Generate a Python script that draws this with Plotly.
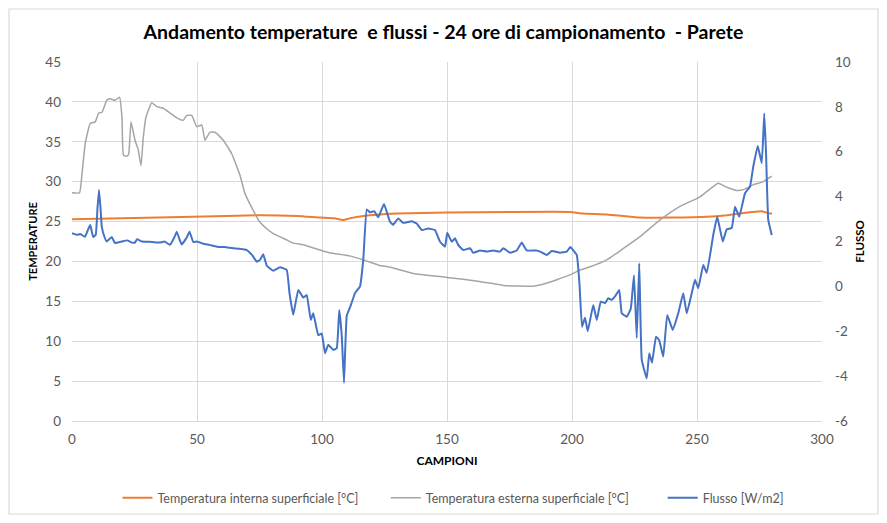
import plotly.graph_objects as go

ORANGE = "#ED7D31"
GRAY = "#A5A5A5"
BLUE = "#4472C4"
GRID = "#D9D9D9"
TXT = "#595959"
FONT = "Lato"

# ---------------------------------------------------------------- data
T_INT_X = [0, 20, 48.5, 75, 90, 99, 105, 108.5, 111, 116.5, 130, 150, 175, 199,
           204.5, 214, 227, 240, 254, 262, 272, 276, 279, 280]
T_INT_Y = [25.3, 25.4, 25.6, 25.8, 25.7, 25.5, 25.4, 25.2, 25.4, 25.7, 26.0, 26.15,
           26.2, 26.2, 26.0, 25.9, 25.5, 25.5, 25.6, 25.8, 26.2, 26.3, 26.0, 26.0]

T_EXT_X = [0, 3, 4, 5.3, 7.3, 9.3, 10.7, 12, 13.9, 15.2, 17.2, 19, 20, 20.6, 22,
           22.7, 23.6, 25.2, 26.5, 27.6, 28.5, 29.6, 31.9, 33.9, 36.5, 39.2, 41.9,
           44.5, 45.9, 47.9, 49.9, 51.9, 53.2, 55.2, 57.2, 60.5, 63.9, 67.2, 69.2,
           72.5, 75, 77.9, 80.5, 85.9, 88.5, 92.5, 98.5, 103, 111, 116.5, 123, 127,
           136.5, 150, 163, 172.5, 184.5, 188, 193.9, 200.5, 203, 207, 213.9, 220,
           227.2, 235.2, 243.2, 251.2, 258.5, 261.9, 265.9, 268.5, 272.5, 276.5, 279.9]
T_EXT_Y = [28.6, 28.6, 31, 34.8, 37.3, 37.5, 38.6, 38.7, 40.2, 40.4, 40.2, 40.6, 38,
           33.3, 33.2, 33.5, 37.5, 35.2, 34, 32, 35.5, 38.1, 39.9, 39.4, 39.2, 38.6,
           38, 37.7, 38.3, 38.3, 36.9, 37.1, 35.2, 36.2, 36.2, 35.2, 33.5, 30.8, 28.5,
           26.4, 25, 24.1, 23.5, 22.7, 22.3, 22.1, 21.5, 21.1, 20.7, 20.2, 19.5, 19.3,
           18.5, 18.0, 17.5, 17.0, 16.9, 17.1, 17.7, 18.5, 18.9, 19.3, 20.2, 21.5,
           23.1, 25.2, 26.9, 28.1, 29.8, 29.3, 28.9, 29.0, 29.6, 30.0, 30.7]

FLUX_X = [0, 2, 3.3, 5.2, 6.3, 7.3, 8.5, 9.5, 10.2, 10.8, 11.4, 11.9, 13, 13.9, 15.9,
          17.2, 20, 22, 24, 25.2, 26, 28, 32, 35, 37, 39.2, 41, 41.9, 43, 43.9, 46,
          47, 48.5, 50, 52.5, 55, 57.9, 61, 64.5, 67, 69.9, 72, 73.9, 75.2, 76.5,
          77.9, 80.5, 83.2, 85.9, 87, 88.5, 90.5, 92.5, 93.9, 95.5, 96.5, 98.5, 99.9,
          101.2, 102.5, 104.5, 105.9, 106.9, 107.9, 108.8, 109.9, 111.5, 113.2, 115.2,
          116.5, 117.9, 119.2, 120.9, 122.5, 124.8, 127.2, 128.5, 130.5, 132.5, 135.9,
          137.9, 139.9, 142.5, 145.2, 147.2, 149.2, 150.1, 151.9, 153.2, 154.5, 156.5,
          159.2, 160.5, 163.2, 165.9, 168.5, 171.2, 172.5, 175.2, 177.9, 179.9, 181.9,
          185.9, 187.2, 189.9, 191.9, 195.2, 197.9, 199.3, 201.9, 203, 204, 205.2,
          206.3, 208.5, 209.9, 211.5, 213.2, 214.5, 215.9, 217.2, 218.9, 219.9, 221.9,
          223.5, 224.8, 225.9, 226.9, 227.9, 229.9, 230.9, 232, 233.6, 234.9, 236.5,
          238.1, 240.3, 242.5, 244.5, 245.9, 247.9, 249.2, 250.5, 252.5, 253.9, 256.5,
          258.1, 260.3, 261.9, 263.9, 265.2, 266.9, 269.2, 271.2, 272.5, 274.3, 275.9,
          276.9, 277.6, 278.5, 279.9]
FLUX_Y = [2.37, 2.3, 2.33, 2.21, 2.5, 2.73, 2.2, 2.3, 3.5, 4.3, 3.5, 2.66, 2.2, 2.0,
          2.2, 1.93, 2.0, 2.05, 1.95, 1.95, 2.1, 2.0, 1.98, 1.95, 2.0, 1.85, 2.2, 2.44,
          2.1, 1.87, 2.2, 2.44, 1.98, 2.0, 1.9, 1.85, 1.77, 1.75, 1.7, 1.68, 1.62, 1.4,
          1.1, 1.18, 1.43, 0.92, 0.7, 0.85, 0.73, -0.3, -1.27, -0.16, -0.5, -0.38, -1.5,
          -1.2, -2.17, -2.1, -2.98, -2.6, -2.83, -2.76, -1.05, -2.2, -4.3, -1.3, -0.85,
          -0.3, 0.0, 1.18, 3.43, 3.3, 3.35, 3.08, 3.67, 2.88, 2.75, 3.03, 2.83, 2.9,
          2.8, 2.51, 2.58, 2.51, 1.99, 1.77, 2.39, 1.99, 2.14, 1.84, 1.62, 1.7, 1.5,
          1.6, 1.55, 1.6, 1.55, 1.7, 1.5, 1.6, 1.95, 1.6, 1.6, 1.55, 1.4, 1.58, 1.5,
          1.55, 1.75, 1.4, 0.1, -1.8, -1.4, -2.0, -0.83, -1.5, -0.68, -0.75, -0.53,
          -0.6, -0.45, -0.16, -1.2, -1.35, -1.0, 0.5, -2.3, 1.03, -3.28, -4.1, -2.98,
          -3.4, -2.24, -2.4, -3.13, -1.27, -1.94, -1.2, -0.31, -1.2, -0.3, 0.29, -0.08,
          0.95, 0.6, 2.29, 3.1, 2.0, 2.55, 2.6, 3.55, 3.1, 4.15, 4.45, 5.33, 6.26, 5.49,
          7.71, 6.0, 2.96, 2.29]

FLUX_TICKS = [-6, -4, -2, 0, 2, 4, 6, 8, 10]
FLUX_TICKTEXT = ["-6", "-4", "-2", "0", "2", "4", "6", "8", "10"]

# ---------------------------------------------------------------- figure
# the page body has an 8px margin, so the figure is 16px smaller than the window
W, H = 871, 507
NB = "\u00a0"  # padding between legend entries

fig = go.Figure()
fig.add_trace(go.Scatter(
    x=T_INT_X, y=T_INT_Y, mode="lines",
    name="Temperatura interna superficiale [°C]" + NB * 7,
    line=dict(color=ORANGE, width=2, shape="spline", smoothing=0.4),
))
fig.add_trace(go.Scatter(
    x=T_EXT_X, y=T_EXT_Y, mode="lines",
    name="Temperatura esterna superficiale [°C]" + NB * 9,
    line=dict(color=GRAY, width=1.5, shape="spline", smoothing=0.4),
))
fig.add_trace(go.Scatter(
    x=FLUX_X, y=FLUX_Y, mode="lines", name="Flusso [W/m2]", yaxis="y2",
    line=dict(color=BLUE, width=2, shape="spline", smoothing=0.3),
))

fig.update_layout(
    width=W, height=H,
    paper_bgcolor="#FFFFFF", plot_bgcolor="#FFFFFF",
    margin=dict(l=64, r=57, t=54, b=94),
    font=dict(family=FONT, color=TXT, size=13),
    title=dict(
        text="<b>Andamento temperature  e flussi - 24 ore di campionamento  - Parete</b>",
        x=0.5, xanchor="center", y=1 - 24 / H, yanchor="middle",
        font=dict(family=FONT, size=19.5, color="#000000"),
    ),
    xaxis=dict(
        range=[0, 300], dtick=50, showgrid=True, gridcolor=GRID, zeroline=False,
        showline=True, linecolor=GRID, ticks="", ticklabelstandoff=6,
        tickfont=dict(size=13.5, color=TXT),
        title=dict(text="<b>CAMPIONI</b>", font=dict(size=12, color="#000000"), standoff=10),
    ),
    yaxis=dict(
        range=[0, 45], dtick=5, showgrid=True, gridcolor=GRID, zeroline=False,
        ticks="", ticklabelstandoff=10, tickfont=dict(size=13.5, color=TXT),
        title=dict(text="<b>TEMPERATURE</b>", font=dict(size=11, color="#000000"), standoff=5),
    ),
    yaxis2=dict(
        range=[-6, 10], tickvals=FLUX_TICKS, ticktext=FLUX_TICKTEXT, overlaying="y",
        side="right", showgrid=False, zeroline=False, ticks="", ticklabelstandoff=12,
        tickfont=dict(size=13.5, color=TXT),
        title=dict(text="<b>FLUSSO</b>", font=dict(size=11.5, color="#000000"), standoff=6),
    ),
    legend=dict(
        orientation="h", xref="paper", x=0.5 + 6 / 750, xanchor="center",
        yref="container", y=1 - (498 - 8) / H, yanchor="middle",
        font=dict(size=12.5, color=TXT), itemwidth=30,
    ),
    shapes=[dict(
        type="rect", xref="paper", yref="paper",
        x0=(9 - 72) / 750, x1=(878 - 72) / 750,
        y0=(421 - 514) / 359, y1=(421 - 9) / 359,
        line=dict(color=GRID, width=1.2), fillcolor="rgba(0,0,0,0)", layer="below",
    )],
)

fig.write_html("out.html")
